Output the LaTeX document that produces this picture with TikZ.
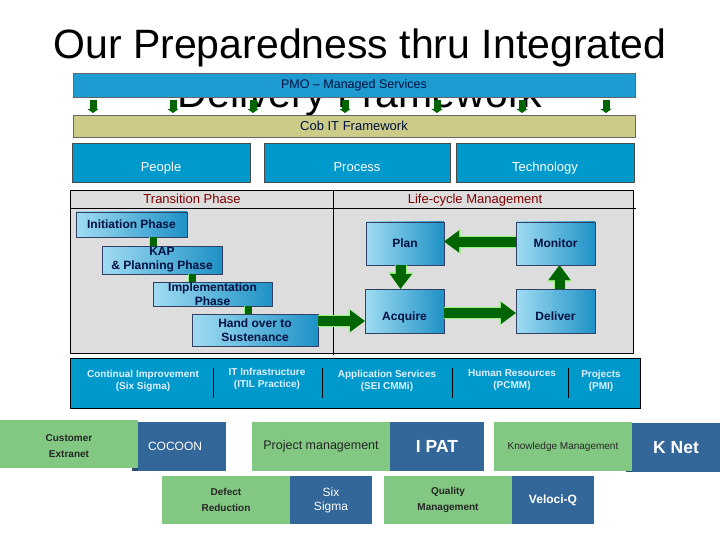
\documentclass[tikz,border=0pt]{standalone}
\usepackage{fontspec}
\setmainfont{Liberation Sans}
\usetikzlibrary{arrows.meta}
\definecolor{pmoblue}{RGB}{30,155,208}
\definecolor{ppblue}{RGB}{0,153,204}
\definecolor{khaki}{RGB}{204,204,136}
\definecolor{panelgray}{RGB}{221,221,221}
\definecolor{hdrred}{RGB}{128,0,0}
\definecolor{navy}{RGB}{0,16,64}
\definecolor{agreen}{RGB}{0,100,0}
\definecolor{aoutline}{RGB}{150,245,120}
\definecolor{lgreen}{RGB}{130,200,130}
\definecolor{dblue}{RGB}{51,102,153}
\definecolor{phlight}{RGB}{160,220,242}
\definecolor{phdark}{RGB}{30,145,198}
\definecolor{bandtext}{RGB}{225,240,255}
\begin{document}
\begin{tikzpicture}[x=1pt,y=-1pt,
  box/.style={anchor=north west, inner sep=0pt, outer sep=0pt, align=center},
  lowtext/.style={text height=18pt, text depth=0pt},
  topbar/.style={box, draw=black!60, line width=0.6pt, minimum width=562pt, font=\fontsize{12.5}{14}\selectfont, text=navy},
  ppt/.style={box, lowtext, draw=black!70, line width=0.6pt, fill=ppblue, text=white, minimum height=39pt, font=\fontsize{13}{15}\selectfont},
  phase/.style={box, draw=navy!80, line width=0.6pt, left color=phlight, right color=phdark, text=navy, font=\bfseries\fontsize{12}{14}\selectfont},
  gbox/.style={box, fill=lgreen, text=black!85, font=\bfseries\fontsize{10}{16}\selectfont},
  bbox/.style={box, fill=dblue, text=white},
  bandtxt/.style={text=bandtext, align=center, font=\bfseries\fontsize{10}{12}\selectfont},
  smarrow/.style={agreen, line width=7pt, -{Triangle[length=4pt,width=11pt]}},
  sconn/.style={agreen, line width=7pt, preaction={draw=aoutline, line width=8.5pt}},
  barrow/.style={agreen, line width=10pt, -{Triangle[length=15pt,width=21pt]},
    preaction={draw=aoutline, line width=12pt, -{Triangle[length=16.5pt,width=24pt]}}}
]
\useasboundingbox (0,0) rectangle (720,540);

% title
\node[anchor=base, font=\fontsize{41}{49}\selectfont] (t1) at (360,59) {Our Preparedness thru Integrated};
\node[anchor=base, font=\fontsize{41}{49}\selectfont] (t2) at (360,108) {Delivery Framework};

% top bars
\node[topbar, fill=pmoblue, minimum height=24pt] (pmo) at (73,73) {PMO – Managed Services};
\node[topbar, fill=khaki, minimum height=22pt, font=\fontsize{13}{15}\selectfont] (cob) at (73,115) {Cob IT Framework};
\foreach \dx in {20,100,180,272,364,449,533}
  \draw[smarrow, shorten <=3pt, shorten >=2pt] ([xshift=\dx pt]pmo.south west) -- ([xshift=\dx pt]cob.north west);

% people process technology
\node[ppt, minimum width=178pt] (people) at (72,143) {People};
\node[ppt, minimum width=186pt] (process) at (264,143) {Process};
\node[ppt, minimum width=178pt] (tech) at (456,143) {Technology};

% panel
\node[box, draw=black, line width=0.8pt, fill=panelgray, minimum width=563pt, minimum height=163pt] (panel) at (70,190) {};
\draw[line width=0.8pt] (panel.north west) ++(0,18) -- ++(566,0);
\draw[line width=0.8pt] (333,190) -- (333,355);
\node[text=hdrred, font=\fontsize{13}{15}\selectfont] (trh) at (192,199) {Transition Phase};
\node[text=hdrred, font=\fontsize{13}{15}\selectfont] (lch) at (475,200) {Life-cycle Management};

% transition phases
\node[phase, minimum width=111pt, minimum height=25pt] (init) at (76,212) {Initiation Phase};
\node[phase, minimum width=120pt, minimum height=28pt] (kap) at (102,246) {KAP\\\& Planning Phase};
\node[phase, minimum width=119pt, minimum height=24pt] (impl) at (153,282) {Implementation\\Phase};
\node[phase, minimum width=126pt, minimum height=32pt] (hand) at (192,314) {Hand over to\\Sustenance};
\draw[sconn] ([xshift=77pt]init.south west) -- ([xshift=51pt]kap.north west);
\draw[sconn] ([xshift=90pt]kap.south west) -- ([xshift=39pt]impl.north west);
\draw[sconn] ([xshift=95pt]impl.south west) -- ([xshift=56pt]hand.north west);

% life-cycle
\node[phase, minimum width=78pt, minimum height=43pt] (plan) at (366,222) {Plan};
\node[phase, minimum width=79pt, minimum height=43pt] (mon) at (516,222) {Monitor};
\node[phase, lowtext, minimum width=79pt, minimum height=44pt] (acq) at (365,289) {Acquire};
\node[phase, lowtext, minimum width=79pt, minimum height=44pt] (del) at (516,289) {Deliver};
\draw[barrow] ([yshift=2pt]mon.west) -- ([yshift=2pt]plan.east);
\draw[barrow] ([xshift=-4pt]plan.south) -- ([xshift=-4pt]acq.north);
\draw[barrow] ([yshift=-2pt]acq.east) -- ([yshift=-2pt]del.west);
\draw[barrow] ([xshift=4pt]del.north) -- ([xshift=4pt]mon.south);
\draw[barrow] ([yshift=9pt]hand.east) -- ([yshift=-10pt]acq.west);

% band
\node[box, fill=ppblue, draw=black, line width=0.8pt, minimum width=570pt, minimum height=50pt] (band) at (70,358) {};
\foreach \x in {213,322,452,568} \draw[line width=0.8pt] (\x,368) -- (\x,398);
\node[bandtxt] (ci) at (143,381) {Continual Improvement\\(Six Sigma)};
\node[bandtxt] (iti) at (267,379) {IT Infrastructure\\(ITIL Practice)};
\node[bandtxt] (app) at (387,381) {Application Services\\(SEI CMMi)};
\node[bandtxt] (hr) at (512,380) {Human Resources\\(PCMM)};
\node[bandtxt] (proj) at (601,381) {Projects\\(PMI)};

% bottom rows
\fill[dblue!75!black] (132,468) rectangle (226,471);
\fill[dblue!75!black] (626,469) rectangle (720,472);
\node[gbox, minimum width=138pt, minimum height=48pt,
  label={[align=center, text=black!85, font=\bfseries\fontsize{10}{16}\selectfont, yshift=-2.5pt]center:Customer\\Extranet}] (cust) at (0,420) {};
\node[bbox, minimum width=88pt, minimum height=49pt, text width=68pt, align=left, font=\fontsize{12}{14}\selectfont] (coc) at (138,422) {COCOON};
\node[gbox, minimum width=138pt, minimum height=49pt, font=\fontsize{12.5}{14}\selectfont] (pm) at (252,422) {Project management};
\node[bbox, minimum width=94pt, minimum height=49pt, font=\bfseries\fontsize{17.5}{20}\selectfont] (ipat) at (390,422) {I PAT};
\node[gbox, minimum width=138pt, minimum height=49pt, font=\fontsize{10}{12}\selectfont] (km) at (494,422) {Knowledge Management};
\node[bbox, minimum width=88pt, minimum height=49pt, font=\bfseries\fontsize{17.5}{20}\selectfont] (knet) at (632,423) {K Net};
\node[gbox, minimum width=128pt, minimum height=48pt] (def) at (162,476) {Defect\\Reduction};
\node[bbox, minimum width=82pt, minimum height=48pt, font=\fontsize{12}{14}\selectfont] (six) at (290,476) {Six\\Sigma};
\node[gbox, minimum width=128pt, minimum height=48pt] (qm) at (384,476) {Quality\\Management};
\node[bbox, minimum width=82pt, minimum height=48pt, font=\bfseries\fontsize{12}{14}\selectfont] (vq) at (512,476) {Veloci-Q};
\end{tikzpicture}
\end{document}
